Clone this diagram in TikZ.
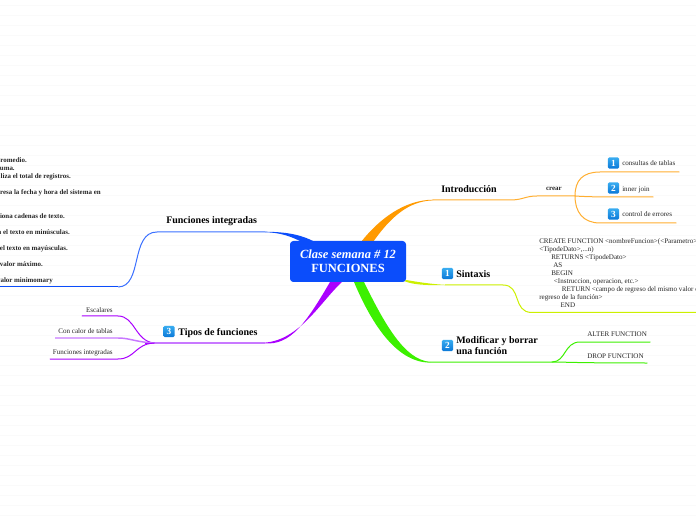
\documentclass[tikz,border=0pt]{standalone}
\usepackage{fontspec}
\setmainfont{Liberation Serif}
\definecolor{cblue}{HTML}{0B4DFB}
\definecolor{corange}{HTML}{FF9A00}
\definecolor{cpurple}{HTML}{AA00FF}
\definecolor{cgreen}{HTML}{3CF000}
\definecolor{cyellow}{HTML}{CCF000}
\definecolor{cpurplelt}{HTML}{C878FF}
\definecolor{corangelt}{HTML}{FFAE30}
\definecolor{cbluelt}{HTML}{3A70FF}
\definecolor{cbadgetop}{HTML}{38ACF0}
\definecolor{cbadgebot}{HTML}{0A78D8}
\tikzset{
  x=0.75pt,y=-0.75pt,
  central/.style={fill=cblue,rounded corners=2.5pt,minimum width=87pt,minimum height=30.75pt,text=white,align=center,inner sep=0pt,font=\fontsize{9.35}{10.5}\selectfont\bfseries},
  maintopic/.style={font=\fontsize{7.5}{8.25}\selectfont\bfseries,inner sep=0pt,align=left,anchor=base west},
  sub/.style={font=\fontsize{5.3}{7}\selectfont,inner sep=0pt,text=black!85,anchor=base west},
  subb/.style={font=\fontsize{5.2}{7}\selectfont\bfseries,inner sep=0pt,text=black!85,anchor=base east},
  badge/.style={top color=cbadgetop,bottom color=cbadgebot,rounded corners=1pt,minimum size=8.4pt,inner sep=0pt,text=white,font=\fontsize{7}{8}\selectfont\bfseries},
  thinl/.style={line width=0.75pt,line cap=round},
}
\begin{document}
\begin{tikzpicture}
\useasboundingbox (0,0) rectangle (696,520);
\foreach \yy in {5,15,...,515} \draw[black!2,line width=0.6pt] (0,\yy) -- (696,\yy);

% junction coordinates
\coordinate (bluefree) at (0,287);
\coordinate (blueelbow) at (157,232);
\coordinate (orgelbow) at (433,200);
\coordinate (crearj) at (575,196);
\coordinate (e1) at (679,172);
\coordinate (e2) at (653,197);
\coordinate (e3) at (676,223);
\coordinate (synelbow) at (503,285);
\coordinate (synend) at (696,312.5);
\coordinate (grnelbow) at (430,362);
\coordinate (grnj) at (552,362);
\coordinate (a1) at (650,342);
\coordinate (a2) at (647,363);
\coordinate (purpelbow) at (265,343);
\coordinate (purpj) at (154,343);
\coordinate (p1) at (82,316);
\coordinate (p2) at (55,338);
\coordinate (p3) at (50,359);

% tapered main branches
\fill[cblue] (265,231.7) .. controls (285,232) and (300,234) .. (315,242) -- (302,242) .. controls (290,236) and (280,232.5) .. (265,232.3) -- cycle;
\draw[cbluelt,line width=0.75pt] (265,232) -- (blueelbow) .. controls (130,232) and (143,287) .. (118,287);
\draw[cblue,line width=0.75pt] (118,287) -- (bluefree);
\fill[corange] (361,242) .. controls (380,218) and (405,200) .. (433,199.7) -- (433,200.4) .. controls (408,201) and (390,218) .. (373,242) -- cycle;
\draw[corangelt,thinl] (orgelbow) -- (510,200) .. controls (523,200) and (525,196) .. (537,196) -- (crearj);
\draw[corangelt,thinl] (crearj) .. controls (575,180) and (583,172) .. (600,172) -- (e1);
\draw[corangelt,thinl] (crearj) .. controls (590,197) and (600,197) .. (e2);
\draw[corangelt,thinl] (crearj) .. controls (575,212) and (583,223) .. (600,223) -- (e3);
\fill[cyellow] (404,281) .. controls (414,285) and (425,285.2) .. (445,285.2) -- (445,284.8) .. controls (430,284) and (418,282) .. (406,280) -- cycle;
\draw[cyellow,thinl] (445,285) -- (synelbow) .. controls (522,285) and (512,312.5) .. (532,312.5) -- (synend);
\fill[cgreen] (354,282) .. controls (370,320) and (395,362.6) .. (430,362.6) -- (430,361.8) .. controls (405,360) and (385,325) .. (364,282) -- cycle;
\draw[cgreen,thinl] (grnelbow) -- (grnj) .. controls (566,362) and (564,342) .. (580,342) -- (a1);
\draw[cgreen,thinl] (grnj) .. controls (565,362) and (575,363) .. (a2);
\fill[cpurple] (342,282) .. controls (322,300) and (300,340) .. (265,342.6) -- (265,343.4) .. controls (290,345) and (305,325) .. (330,282) -- cycle;
\draw[cpurplelt,line width=1pt] (purpelbow) -- (purpj);
\draw[cpurple,line width=1pt] (154,343) -- (145,343);
\draw[cpurple,thinl] (purpj) .. controls (135,341) and (135,316) .. (118,316) -- (p1);
\draw[cpurplelt,line width=1.1pt] (purpj) .. controls (135,342) and (130,338) .. (118,338) -- (p2);
\draw[cpurple,thinl] (purpj) .. controls (135,344) and (135,359) .. (118,359) -- (p3);

% central
\node[central] (root) at (348,261.5) {\textit{Clase semana \# 12}\\FUNCIONES};

% topics
\node[maintopic] (fi) at (166,224) {Funciones integradas};
\node[maintopic] (intro) at (441,192.5) {Introducción};
\node[maintopic] (sint) at (456,277) {Sintaxis};
\node[maintopic] (tipos) at (178,335) {Tipos de funciones};
\node[maintopic,align=left,anchor=north west] (mod) at (456,336) {Modificar y borrar\\una función};
\node[badge] (b4) at (447.5,273.5) {1};
\node[badge] (b5) at (447.5,345.5) {2};
\node[badge] (b6) at (169,331.5) {3};

% crear
\node[subb] (crear) at (562,191) {crear};
\node[badge] (b1) at (613.5,163) {1};
\node[badge] (b2) at (613.5,188) {2};
\node[badge] (b3) at (613.5,214) {3};
\node[sub] (s1) at (622,166) {consultas de tablas};
\node[sub] (s2) at (622,191.5) {inner join};
\node[sub] (s3) at (622,217) {control de errores};

% syntax
\node[sub,align=left,anchor=north west,font=\fontsize{5.3}{6pt}\selectfont] (code) at (539,238.5) {CREATE FUNCTION <nombreFuncion>(<Parametro>\\
<TipodeDato>,...n)\\
\hspace*{9pt}RETURNS <TipodeDato>\\
\hspace*{10.5pt}AS\\
\hspace*{9pt}BEGIN\\
\hspace*{11pt}<Instruccion, operacion, etc.>\\
\hspace*{17pt}RETURN <campo de regreso del mismo valor d\\
regreso de la función>\\
\hspace*{16pt}END};

% alter/drop
\node[sub] (alt) at (587,336) {ALTER FUNCTION};
\node[sub] (drp) at (587,358) {DROP FUNCTION};

% tipos children
\node[sub,anchor=base east] (t1) at (113,312) {Escalares};
\node[sub,anchor=base east] (t2) at (113,333.5) {Con calor de tablas};
\node[sub,anchor=base east] (t3) at (113,354.5) {Funciones integradas};

% left texts (clipped by the left edge)
\node[subb] (l1) at (27,163) {promedio.};
\node[subb] (l2) at (15,171) {suma.};
\node[subb] (l3) at (71,178.5) {liza el total de registros.};
\node[subb] (l4) at (101,194.5) {resa la fecha y hora del sistema en};
\node[subb] (l5) at (65,219) {tiona cadenas de texto.};
\node[subb] (l6) at (70,235) {a el texto en minúsculas.};
\node[subb] (l7) at (68,251) {el texto en mayúsculas.};
\node[subb] (l8) at (43,267) {valor máximo.};
\node[subb] (l9) at (53,283) {valor minimomary};
\end{tikzpicture}
\end{document}
